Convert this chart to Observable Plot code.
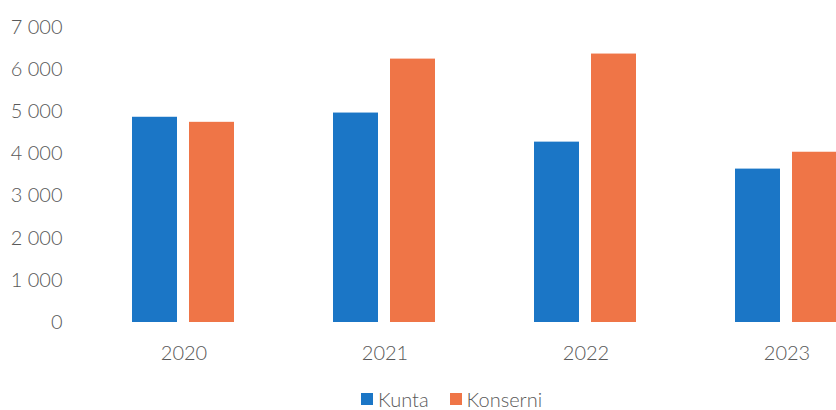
<!DOCTYPE html>
<html>
<head>
<meta charset="utf-8">
<script src="https://cdn.jsdelivr.net/npm/d3@7"></script>
<script src="https://cdn.jsdelivr.net/npm/@observablehq/plot@0.6"></script>
<style>
  html, body { margin: 0; padding: 0; background: #fff; overflow: hidden; width: 836px; height: 410px; }
  #chart { position: absolute; left: 0; top: 0; width: 890px; }
  #chart svg { max-width: none !important; }
  #legend { position: absolute; left: 361px; top: 389px; display: flex; align-items: center; line-height: 20px;
            font-family: Lato, "Open Sans", sans-serif; font-weight: 300; font-size: 20px; color: #595959; white-space: nowrap; }
  #legend .sw { display: inline-block; width: 12px; height: 12px; margin-right: 5px; }
  #legend .item { display: flex; align-items: center; margin-right: 21px; }
</style>
</head>
<body>
<div id="chart"></div>
<div id="legend"></div>
<script>
const years = ["2020", "2021", "2022", "2023"];
const series = ["Kunta", "Konserni"];
const kunta = [4870, 4970, 4280, 3640];
const konserni = [4750, 6250, 6370, 4040];
const yTicks = [0, 1000, 2000, 3000, 4000, 5000, 6000, 7000];
const colors = ["#1b76c6", "#ef7547"];

const data = years.flatMap((y, i) => [
  {year: y, series: series[0], value: kunta[i]},
  {year: y, series: series[1], value: konserni[i]}
]);

const fmt = d => d3.format(",")(d).replace(/,/g, " ");

const chart = Plot.plot({
  width: 890,
  height: 388,
  marginLeft: 83,
  marginRight: 3,
  marginTop: 27,
  marginBottom: 66,
  style: {fontFamily: "Lato, 'Open Sans', sans-serif", fontSize: "20px", fontWeight: 300, color: "#595959", background: "transparent", maxWidth: "none"},
  fx: {domain: years, padding: 0, label: null},
  x: {domain: series, paddingInner: 0.21, paddingOuter: 0.85, axis: null},
  y: {domain: [0, 7000], label: null},
  color: {domain: series, range: colors},
  marks: [
    Plot.axisY({ticks: yTicks, tickFormat: fmt, tickSize: 0, tickPadding: 21, label: null, fill: "#595959"}),
    Plot.axisFx({anchor: "bottom", tickSize: 0, tickPadding: 23, label: null, fill: "#595959"}),
    Plot.barY(data, {fx: "year", x: "series", y: "value", fill: "series"})
  ]
});
chart.style.maxWidth = "none";
document.getElementById("chart").appendChild(chart);

const legend = document.getElementById("legend");
series.forEach((s, i) => {
  const item = document.createElement("div");
  item.className = "item";
  const sw = document.createElement("span");
  sw.className = "sw";
  sw.style.background = colors[i];
  item.appendChild(sw);
  const t = document.createElement("span");
  t.textContent = s;
  item.appendChild(t);
  legend.appendChild(item);
});
</script>
</body>
</html>
